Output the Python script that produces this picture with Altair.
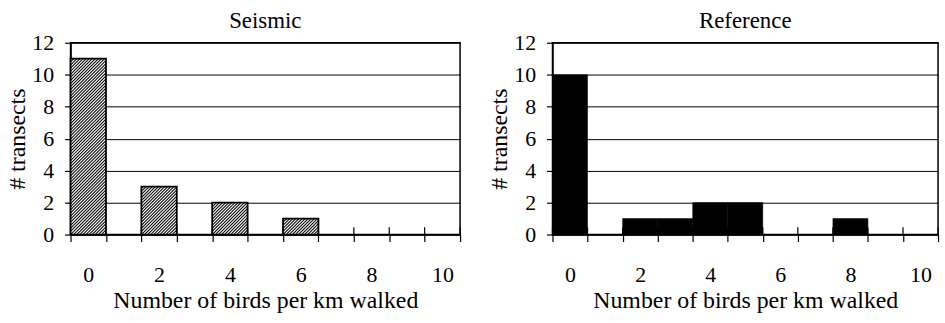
import altair as alt
import pandas as pd

# ---- data ----
categories = [0, 1, 2, 3, 4, 5, 6, 7, 8, 9, 10]
seismic = [11, 0, 3, 0, 2, 0, 1, 0, 0, 0, 0]
reference = [10, 0, 1, 1, 2, 2, 0, 0, 1, 0, 0]
x_tick_labels = [0, 2, 4, 6, 8, 10]
y_ticks = [0, 2, 4, 6, 8, 10, 12]

FONT = "Liberation Serif"
W_LEFT, W_RIGHT, H = 392, 388, 193
X_MIN, X_MAX = -0.5, 10.5
Y_MAX = 12
UP_TICK = 0.45  # upward half of the "cross" category ticks, in y units


def bars_df(counts):
    df = pd.DataFrame({"cat": categories, "count": counts})
    df["x0"] = df["cat"] - 0.5
    df["x1"] = df["cat"] + 0.5
    return df[df["count"] > 0]


def bounds_df():
    b = [c - 0.5 for c in categories] + [categories[-1] + 0.5]
    return pd.DataFrame({"b": b, "y0": 0.0, "y1": UP_TICK})


def hatch_df(counts, width, spacing=3.1):
    """Diagonal hatch segments inside each bar, derived from the counts."""
    xpx = width / (X_MAX - X_MIN)
    ypx = H / Y_MAX
    rows = []
    for p, c in zip(categories, counts):
        if c <= 0:
            continue
        wp, hp = xpx, c * ypx
        k = -wp + spacing / 2
        while k < hp:
            u0 = max(0.0, -k)
            u1 = min(wp, hp - k)
            if u1 > u0:
                rows.append({
                    "hx": p - 0.5 + u0 / xpx, "hy": (u0 + k) / ypx,
                    "hx2": p - 0.5 + u1 / xpx, "hy2": (u1 + k) / ypx,
                })
            k += spacing
    return pd.DataFrame(rows)


x_values = [v / 2 for v in range(-1, 22)]
x_axis = alt.Axis(
    values=x_values,
    labelExpr="indexof([" + ",".join(str(v) for v in x_tick_labels) + "], datum.value) >= 0 ? toString(datum.value) : ''",
    tickOpacity={"condition": {"test": "abs(datum.value - round(datum.value)) > 0.25", "value": 1}, "value": 0},
    grid=False,
    tickSize=7,
    labelPadding=23,
    labelFlush=False,
    labelOverlap=False,
    titlePadding=3,
)
y_axis = alt.Axis(
    values=y_ticks,
    grid=True,
    tickSize=6,
    labelPadding=11,
    titlePadding=2,
)

X_TITLE = "Number of birds per km walked"
Y_TITLE = "# transects"


def xs(field):
    return alt.X(f"{field}:Q", scale=alt.Scale(domain=[X_MIN, X_MAX], nice=False, zero=False),
                 axis=x_axis, title=X_TITLE)


def ys(field):
    return alt.Y(f"{field}:Q", scale=alt.Scale(domain=[0, Y_MAX], nice=False),
                 axis=y_axis, title=Y_TITLE)


def title(text):
    return alt.TitleParams(text, font=FONT, fontSize=23, fontWeight="normal",
                           color="black", anchor="middle", offset=-1)


def up_ticks():
    return alt.Chart(bounds_df()).mark_rule(stroke="black", strokeWidth=1.2).encode(
        x=xs("b"), y=ys("y0"), y2="y1:Q")


# ---- left panel: hatched bars ----
sdf = bars_df(seismic)
hdf = hatch_df(seismic, W_LEFT)

s_fill = alt.Chart(sdf).mark_bar(fill="white", stroke=None).encode(
    x=xs("x0"), x2="x1:Q", y=ys("count"), y2=alt.datum(0))
s_hatch = alt.Chart(hdf).mark_rule(stroke="black", strokeWidth=1.05).encode(
    x=xs("hx"), x2="hx2:Q", y=ys("hy"), y2="hy2:Q")
s_outline = alt.Chart(sdf).mark_bar(fillOpacity=0, stroke="black", strokeWidth=1.8).encode(
    x=xs("x0"), x2="x1:Q", y=ys("count"), y2=alt.datum(0))

left = alt.layer(up_ticks(), s_fill, s_hatch, s_outline).properties(
    width=W_LEFT, height=H, title=title("Seismic"))

# ---- right panel: solid black bars ----
rdf = bars_df(reference)
r_bars = alt.Chart(rdf).mark_bar(fill="black", stroke="black", strokeWidth=0.5).encode(
    x=xs("x0"), x2="x1:Q", y=ys("count"), y2=alt.datum(0))
right = alt.layer(up_ticks(), r_bars).properties(
    width=W_RIGHT, height=H, title=title("Reference"))

chart = alt.hconcat(left, right, spacing=25).properties(
    padding={"left": 5, "top": 8, "right": 5, "bottom": 5},
    background="white",
).configure_view(
    stroke="black", strokeWidth=1.5
).configure_title(
    font=FONT, fontWeight="normal", color="black"
).configure_axis(
    labelFont=FONT, titleFont=FONT, labelFontSize=22, titleFontSize=24,
    titleFontWeight="normal", labelColor="black", titleColor="black",
    domainColor="black", domainWidth=1.5, tickColor="black", tickWidth=1.2,
    gridColor="black", gridWidth=1, gridOpacity=1,
)

chart.save("out.html", embed_options={"renderer": "svg", "actions": False})
